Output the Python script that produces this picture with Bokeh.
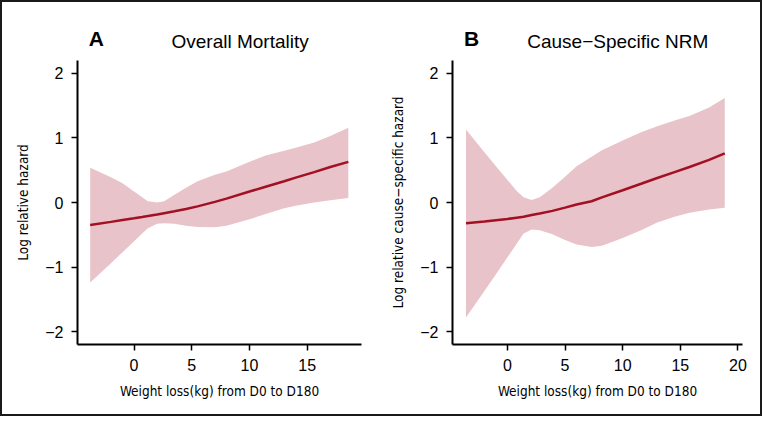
from bokeh.plotting import figure
from bokeh.layouts import row, column
from bokeh.models import Range1d, FixedTicker
from bokeh.core.properties import value
from bokeh.embed import file_html
from bokeh.resources import INLINE

# ---- data ----
x_a = [-3.8, -2, -1, 0, 0.7, 1.2, 2, 2.6, 3.5, 4.5, 5.5, 7, 8, 10, 11.4, 13, 14, 15.6, 17, 18.56]
upper_a = [0.54, 0.39, 0.30, 0.17, 0.08, 0.02, 0.0, 0.02, 0.12, 0.23, 0.33, 0.43, 0.48, 0.63, 0.73, 0.80, 0.85, 0.93, 1.03, 1.16]
fit_a = [-0.35, -0.30, -0.27, -0.245, -0.225, -0.21, -0.185, -0.165, -0.135, -0.10, -0.06, 0.01, 0.06, 0.17, 0.245, 0.33, 0.385, 0.47, 0.55, 0.63]
lower_a = [-1.24, -0.94, -0.77, -0.60, -0.48, -0.40, -0.33, -0.32, -0.33, -0.36, -0.38, -0.385, -0.36, -0.26, -0.18, -0.09, -0.05, 0.0, 0.035, 0.07]

x_b = [-3.6, -2, -1, 0, 0.8, 1.4, 2.1, 2.8, 3.9, 5, 6, 7.3, 8.2, 10, 11.6, 13, 14.5, 15.8, 17.5, 18.86]
upper_b = [1.13, 0.78, 0.56, 0.35, 0.18, 0.08, 0.04, 0.08, 0.23, 0.40, 0.56, 0.71, 0.81, 0.96, 1.09, 1.18, 1.27, 1.34, 1.47, 1.62]
fit_b = [-0.32, -0.295, -0.275, -0.255, -0.235, -0.22, -0.195, -0.17, -0.13, -0.08, -0.03, 0.02, 0.08, 0.19, 0.29, 0.38, 0.47, 0.55, 0.66, 0.76]
lower_b = [-1.78, -1.37, -1.11, -0.85, -0.64, -0.48, -0.42, -0.43, -0.49, -0.58, -0.65, -0.69, -0.67, -0.55, -0.43, -0.31, -0.22, -0.16, -0.11, -0.08]

y_ticks = [-2, -1, 0, 1, 2]
y_tick_labels = {-2: "\u22122", -1: "\u22121", 0: "0", 1: "1", 2: "2"}
x_ticks_a = [0, 5, 10, 15]
x_ticks_b = [0, 5, 10, 15, 20]

titles = ["Overall Mortality", "Cause\u2212Specific NRM"]
letters = ["A", "B"]
x_title = "Weight loss(kg) from D0 to D180"
y_titles = ["Log relative hazard", "Log relative cause\u2212specific hazard"]

BAND = "#E8C3C9"
LINE = "#A30F23"
TICK_FONT = "Liberation Sans"
LABEL_FONT = "'DejaVu Sans Condensed', Roboto"

W = 379
HEAD = 52
BODY = 360


def header(letter, title, left, frame_w):
    h = figure(width=W, height=HEAD, x_range=Range1d(0, W), y_range=Range1d(0, HEAD),
               output_backend="svg", toolbar_location=None, title=None,
               x_axis_location=None, y_axis_location=None,
               min_border=0, min_border_left=0, min_border_right=0,
               min_border_top=0, min_border_bottom=0)
    h.grid.visible = False
    h.outline_line_color = None
    h.text(x=[15], y=[16], text=[letter], text_align="left", text_baseline="alphabetic",
           text_font=value(TICK_FONT), text_font_size="21px", text_font_style="bold",
           text_color="black")
    h.text(x=[left + frame_w / 2], y=[13], text=[title], text_align="center",
           text_baseline="alphabetic", text_font=value(TICK_FONT), text_font_size="19px",
           text_color="black")
    return h


def panel(x, lo, fit, hi, xr, xticks, ylabel, left, right):
    p = figure(width=W, height=BODY, x_range=Range1d(*xr), y_range=Range1d(-2.2, 2.2),
               output_backend="svg", toolbar_location=None, title=None,
               min_border_left=left, min_border_right=right, min_border_top=6, min_border_bottom=70)
    p.outline_line_color = None
    p.grid.visible = False

    p.varea(x=x, y1=lo, y2=hi, fill_color=BAND, fill_alpha=1.0)
    p.line(x, fit, line_color=LINE, line_width=2.5)

    for ax in (p.xaxis[0], p.yaxis[0]):
        ax.axis_line_width = 2
        ax.axis_line_color = "black"
        ax.major_tick_line_width = 1.5
        ax.major_tick_line_color = "black"
        ax.major_tick_out = 6
        ax.major_tick_in = 0
        ax.minor_tick_line_color = None
        ax.major_label_text_font = TICK_FONT
        ax.major_label_text_font_size = "16px"
        ax.major_label_text_color = "black"
        ax.axis_label_text_font = LABEL_FONT
        ax.axis_label_text_font_size = "13.5px"
        ax.axis_label_text_font_style = "normal"
        ax.axis_label_text_color = "black"

    p.xaxis.ticker = FixedTicker(ticks=xticks)
    p.xaxis.major_label_standoff = 8
    p.xaxis.axis_label = x_title
    p.xaxis.axis_label_standoff = 9

    p.yaxis.ticker = FixedTicker(ticks=y_ticks)
    p.yaxis.major_label_overrides = y_tick_labels
    p.yaxis.major_label_standoff = 8
    p.yaxis.axis_label = ylabel
    p.yaxis.axis_label_standoff = 11
    return p


ha = header(letters[0], titles[0], 75, W - 75 - 20)
pa = panel(x_a, lower_a, fit_a, upper_a, (-4.9, 19.7), x_ticks_a, y_titles[0], 75, 20)
hb = header(letters[1], titles[1], 71, W - 71 - 18)
pb = panel(x_b, lower_b, fit_b, upper_b, (-4.77, 20.4), x_ticks_b, y_titles[1], 71, 18)

layout = row(column(ha, pa), column(hb, pb), styles={"border": "2px solid #1a1a1a"})

open("out.html", "w").write(file_html(layout, INLINE))
